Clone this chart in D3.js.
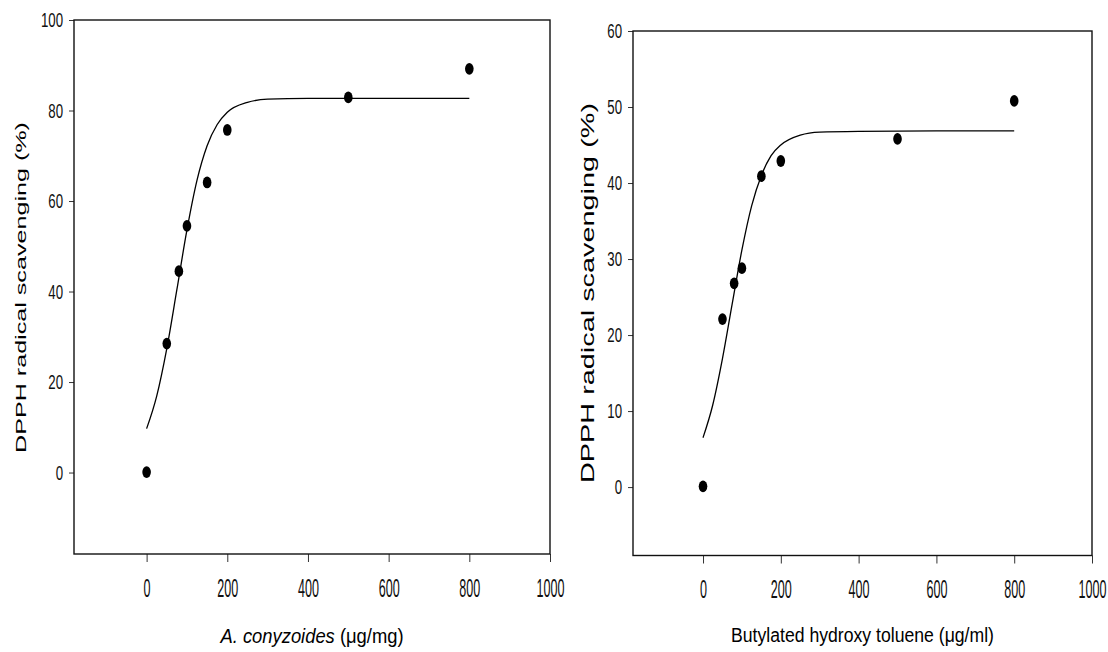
<!DOCTYPE html>
<html>
<head>
<meta charset="utf-8">
<script src="https://cdn.jsdelivr.net/npm/d3@7"></script>
<style>
  html, body { margin: 0; padding: 0; background: #fff; }
  svg { display: block; }
</style>
</head>
<body>
<svg id="chart" width="1108" height="652"></svg>
<script>
// Concentrations tested (x) and measured DPPH scavenging (%) for each sample
const concA = [0, 50, 80, 100, 150, 200, 500, 800];
const scavA = [0.1, 28.5, 44.5, 54.5, 64.1, 75.7, 82.9, 89.2];
const concB = [0, 50, 80, 100, 150, 200, 500, 800];
const scavB = [0.1, 22.1, 26.8, 28.8, 40.9, 42.9, 45.8, 50.8];

// Sigmoid fit lines, sampled along the concentration range
const fitX = [0, 25, 50, 75, 100, 125, 150, 175, 200, 250, 300, 400, 600, 800];
const fitA = [9.7, 16.9, 27.4, 40.4, 53.6, 64.6, 72.2, 76.9, 79.6, 81.8, 82.5, 82.7, 82.7, 82.7];
const fitB = [6.5, 10.8, 16.9, 24.1, 31.2, 37.0, 41.0, 43.6, 45.0, 46.3, 46.7, 46.8, 46.85, 46.85];

// Tick values
const xTicks = [0, 200, 400, 600, 800, 1000];
const yTicksA = [0, 20, 40, 60, 80, 100];
const yTicksB = [0, 10, 20, 30, 40, 50, 60];

const yTitle = "DPPH radical scavenging (%)";

const svg = d3.select("#chart");
svg.append("rect").attr("width", 1108).attr("height", 652).attr("fill", "#fff");

const panels = [
  {
    x: concA, y: scavA, fit: fitA, yTicks: yTicksA,
    left: 74, right: 550, top: 20, bottom: 554,
    xDomain: [-180, 1000], yDomain: [-18, 100],
    yTitleX: 26, yTitleY: 287.5, yTitleSize: 15.5, yTitleLen: 331,
    xTickBase: 43, xTitleY: 643, xTitleSx: 0.875,
    xTitle: [{ t: "A. conyzoides", italic: true }, { t: " (\u03bcg/mg)", italic: false }]
  },
  {
    x: concB, y: scavB, fit: fitB, yTicks: yTicksB,
    left: 633, right: 1092, top: 31, bottom: 555.5,
    xDomain: [-180, 1000], yDomain: [-9, 60],
    yTitleX: 594, yTitleY: 293, yTitleSize: 17.8, yTitleLen: 380,
    xTickBase: 43, xTitleY: 642, xTitleSx: 0.84,
    xTitle: [{ t: "Butylated hydroxy toluene (\u03bcg/ml)", italic: false }]
  }
];

const FONT = "'Liberation Sans', Arial, sans-serif";
const yTickFont = 19.5, yTickSx = 0.68;
const xTickFont = 26.5, xTickSx = 0.475;
const titleFont = 21;

panels.forEach(p => {
  const xs = d3.scaleLinear().domain(p.xDomain).range([p.left, p.right]);
  const ys = d3.scaleLinear().domain(p.yDomain).range([p.bottom, p.top]);
  const g = svg.append("g");

  // Y axis ticks and labels
  const yAxis = g.append("g")
    .attr("transform", `translate(${p.left},0)`)
    .call(d3.axisLeft(ys).tickValues(p.yTicks).tickSize(5).tickSizeOuter(0).tickFormat(d3.format("d")));
  yAxis.select(".domain").remove();
  yAxis.selectAll(".tick line").attr("stroke", "#333").attr("stroke-width", 1);
  yAxis.selectAll(".tick text")
    .attr("font-family", FONT).attr("font-size", yTickFont).attr("fill", "#111")
    .attr("text-anchor", "end")
    .attr("x", -11 / yTickSx).attr("dy", "0.35em")
    .attr("transform", `scale(${yTickSx},1)`);

  // X axis ticks and labels
  const xAxis = g.append("g")
    .attr("transform", `translate(0,${p.bottom})`)
    .call(d3.axisBottom(xs).tickValues(xTicks).tickSize(8).tickSizeOuter(0).tickFormat(d3.format("d")));
  xAxis.select(".domain").remove();
  xAxis.selectAll(".tick line").attr("stroke", "#333").attr("stroke-width", 1);
  xAxis.selectAll(".tick text")
    .attr("font-family", FONT).attr("font-size", xTickFont).attr("fill", "#111")
    .attr("text-anchor", "middle")
    .attr("y", p.xTickBase).attr("dy", 0)
    .attr("transform", `scale(${xTickSx},1)`);

  // Plot frame
  g.append("rect")
    .attr("x", p.left).attr("y", p.top)
    .attr("width", p.right - p.left).attr("height", p.bottom - p.top)
    .attr("fill", "none").attr("stroke", "#111").attr("stroke-width", 1.4);

  // Fitted sigmoid
  const line = d3.line()
    .x((d, i) => xs(fitX[i]))
    .y(d => ys(d))
    .curve(d3.curveMonotoneX);
  g.append("path")
    .datum(p.fit)
    .attr("d", line)
    .attr("fill", "none").attr("stroke", "#000").attr("stroke-width", 1.3);

  // Measured points
  g.selectAll("ellipse.pt")
    .data(p.x.map((v, i) => [v, p.y[i]]))
    .join("ellipse")
    .attr("class", "pt")
    .attr("cx", d => xs(d[0])).attr("cy", d => ys(d[1]))
    .attr("rx", 4.3).attr("ry", 5.9)
    .attr("fill", "#000");

  // Y title (widened lettering, rotated)
  g.append("text")
    .attr("transform", `translate(${p.yTitleX},${p.yTitleY}) rotate(-90)`)
    .attr("x", -p.yTitleLen / 2)
    .attr("text-anchor", "start")
    .attr("textLength", p.yTitleLen)
    .attr("lengthAdjust", "spacingAndGlyphs")
    .attr("font-family", FONT).attr("font-size", p.yTitleSize).attr("fill", "#000")
    .text(yTitle);

  // X title (condensed lettering)
  const cx = (p.left + p.right) / 2;
  const xt = g.append("text")
    .attr("transform", `translate(${cx},${p.xTitleY}) scale(${p.xTitleSx},1)`)
    .attr("text-anchor", "middle")
    .attr("font-family", FONT).attr("font-size", titleFont).attr("fill", "#000");
  p.xTitle.forEach(s => {
    xt.append("tspan").attr("font-style", s.italic ? "italic" : "normal").text(s.t);
  });
});
</script>
</body>
</html>
